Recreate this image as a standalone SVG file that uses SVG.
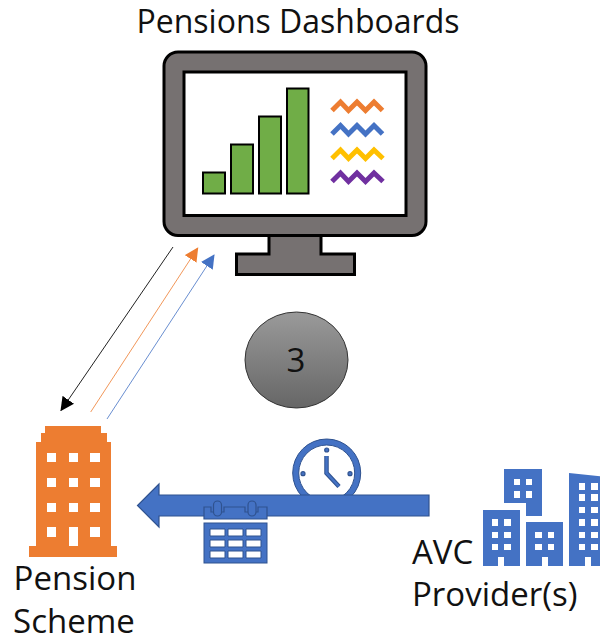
<svg xmlns="http://www.w3.org/2000/svg" width="600" height="638" viewBox="0 0 600 638">
<style>
text{font-family:"Open Sans","Noto Sans","Liberation Sans",sans-serif;fill:#111}
.lbl{font-size:33px}
.bar{fill:#70AD47;stroke:#000;stroke-width:2}
.zig{fill:none;stroke-width:5}
.win{fill:#fff}
.org{fill:#ED7D31}
.blu{fill:#4472C4}
.dk{stroke:#2F528F;stroke-width:1.2}
.cell{fill:#fff;stroke:#2F528F;stroke-width:1}
</style>
<defs>
<linearGradient id="g" x1="0" y1="0" x2="0" y2="1"><stop offset="0" stop-color="#9a9a9a"/><stop offset="1" stop-color="#666"/></linearGradient>
<marker id="ab" markerUnits="userSpaceOnUse" markerWidth="14" markerHeight="14" refX="13" refY="7" orient="auto"><path d="M0 0L14 7L0 14z" fill="#000"/></marker>
<marker id="ao" markerUnits="userSpaceOnUse" markerWidth="14" markerHeight="14" refX="13" refY="7" orient="auto"><path d="M0 0L14 7L0 14z" fill="#ED7D31"/></marker>
<marker id="al" markerUnits="userSpaceOnUse" markerWidth="14" markerHeight="14" refX="13" refY="7" orient="auto"><path d="M0 0L14 7L0 14z" fill="#4472C4"/></marker>
</defs>
<rect width="600" height="638" fill="#fff"/>
<g id="dashboard">
<text x="298" y="33" font-size="32" text-anchor="middle">Pensions Dashboards</text>
<path d="M269 235V254H236.500V274.500H354.500V254H321V235z" fill="#767171" stroke="#000" stroke-width="3"/>
<rect x="164" y="52" width="262" height="183.500" rx="14" fill="#767171" stroke="#000" stroke-width="3"/>
<rect x="184" y="72" width="222" height="143.500" fill="#fff" stroke="#000" stroke-width="3"/>
<rect class="bar" x="203" y="172.500" width="22" height="21"/>
<rect class="bar" x="231" y="144.500" width="22" height="49"/>
<rect class="bar" x="259" y="116.500" width="22" height="77"/>
<rect class="bar" x="287" y="88.500" width="21.500" height="105"/>
<path class="zig" stroke="#ED7D31" d="M332 110.500L340.500 102L348.500 110.500L357 102L365.500 110.500L374 102L382.500 110.500"/>
<path class="zig" stroke="#4472C4" d="M332 134L340.500 125.500L348.500 134L357 125.500L365.500 134L374 125.500L382.500 134"/>
<path class="zig" stroke="#FFC000" d="M332 158.500L340.500 150L348.500 158.500L357 150L365.500 158.500L374 150L383 158.500"/>
<path class="zig" stroke="#7030A0" d="M332 181.500L340.500 173L348.500 181.500L357 173L365.500 181.500L374 173L383 181.500"/>
</g>
<g id="connectors" fill="none">
<path d="M173 247L61 410.500" stroke="#222" stroke-width="1" marker-end="url(#ab)"/>
<path d="M90.700 412L197.700 248" stroke="#ED7D31" stroke-width="1" stroke-opacity=".8" marker-end="url(#ao)"/>
<path d="M107 419L214 255" stroke="#4472C4" stroke-width="1" stroke-opacity=".8" marker-end="url(#al)"/>
</g>
<g id="step3">
<ellipse cx="296.500" cy="360" rx="51.500" ry="48" fill="url(#g)" stroke="#333" stroke-width="1"/>
<text x="296" y="372" font-size="33" text-anchor="middle">3</text>
</g>
<g id="pension-scheme">
<path class="org" d="M45 426H101V433H107V442H111V546H117V557H29V546H36V442H41V433H45z"/>
<path class="win" d="M47 453h9v9h-9zM69 453h9v9h-9zM90 453h10v9h-10zM47 478h9v9h-9zM69 478h9v9h-9zM90 478h10v9h-10zM47 503h9v9h-9zM69 503h9v9h-9zM90 503h10v9h-10zM47 527h9v10h-9zM69 527h9v19h-9zM90 527h10v10h-10z"/>
<text class="lbl" x="75" y="590" text-anchor="middle">Pension</text>
<text class="lbl" x="74" y="633" text-anchor="middle">Scheme</text>
</g>
<g id="timeline">
<circle cx="326.700" cy="473" r="31" fill="#fff" stroke="#4472C4" stroke-width="6"/>
<circle cx="326.700" cy="473" r="34" fill="none" stroke="#2F528F" stroke-width="1"/>
<circle cx="326.700" cy="473" r="28" fill="none" stroke="#2F528F" stroke-width="1"/>
<path d="M326.500 456V473L339 486.500" fill="none" stroke="#2F528F" stroke-width="4.500"/>
<path d="M326.500 456V473L339 486.500" fill="none" stroke="#4472C4" stroke-width="2.500"/>
<g class="blu dk"><circle cx="326.700" cy="450" r="2"/><circle cx="303" cy="473.700" r="2"/><circle cx="350" cy="473.700" r="2"/></g>
<path class="blu dk" d="M429 495H159V484L137.500 505.500L159 527V516H429z"/>
<g id="calendar">
<path class="blu dk" d="M204 519V507H211V512H224V507H245V512H258V507H267V519z"/>
<rect class="blu dk" x="213.500" y="501" width="8" height="15" rx="4"/>
<rect class="blu dk" x="248" y="501" width="8" height="15" rx="4"/>
<rect class="blu" x="204" y="523" width="63" height="40" stroke="#2F528F" stroke-width="1"/>
<path class="cell" d="M210 529h15v7h-15zM228 529h15v7h-15zM246 529h15v7h-15zM210 540h15v7h-15zM228 540h15v7h-15zM246 540h15v7h-15zM210 551h15v7h-15zM228 551h15v7h-15zM246 551h15v7h-15z"/>
</g>
</g>
<g id="avc-providers">
<path class="blu" d="M504 469H542V516H526V503H504z"/>
<path class="blu" d="M483 510H520V566H504V557H498V566H483z"/>
<path class="blu" d="M526 522H563V566H548V557H542V566H526z"/>
<path class="blu" d="M569 473L606 477V566H591V557H585V566H569z"/>
<path class="win" d="M514 479h6v6h-6zM526 479h6v6h-6zM514 491h6v7h-6zM526 491h6v7h-6zM492 519h6v7h-6zM504 519h7v7h-7zM492 532h6v6h-6zM504 532h7v6h-7zM492 544h6v6h-6zM504 544h7v6h-7zM535 532h7v6h-7zM548 532h6v6h-6zM535 544h7v6h-7zM548 544h6v6h-6zM579 483h6v7h-6zM591 483h7v7h-7zM579 494h6v7h-6zM591 494h7v7h-7zM579 507h6v6h-6zM591 507h7v6h-7zM579 519h6v7h-6zM591 519h7v7h-7zM579 532h6v6h-6zM591 532h7v6h-7zM579 544h6v6h-6zM591 544h7v6h-7z"/>
<text class="lbl" x="412" y="564">AVC</text>
<text class="lbl" x="412" y="606">Provider(s)</text>
</g>
</svg>
